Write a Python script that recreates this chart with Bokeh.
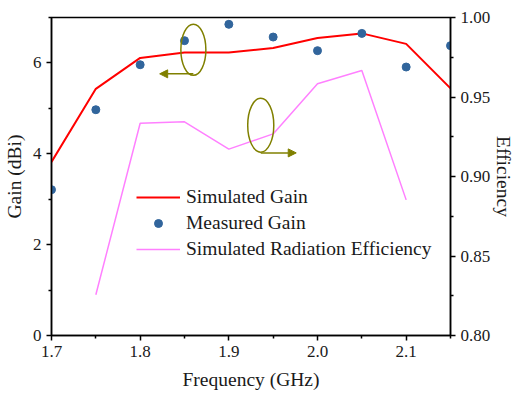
from bokeh.plotting import figure
from bokeh.models import (Range1d, LinearAxis, Legend, LegendItem, Arrow, NormalHead,
                          FixedTicker, PrintfTickFormatter)
from bokeh.embed import file_html
from bokeh.resources import INLINE

# ---- data ----
freq = [1.70, 1.75, 1.80, 1.85, 1.90, 1.95, 2.00, 2.05, 2.10, 2.15]
sim_gain = [3.82, 5.43, 6.11, 6.23, 6.23, 6.33, 6.55, 6.65, 6.42, 5.44]
meas_gain = [3.21, 4.97, 5.96, 6.49, 6.85, 6.57, 6.27, 6.65, 5.91, 6.38]
eff_freq = [1.75, 1.80, 1.85, 1.90, 1.95, 2.00, 2.05, 2.10]
sim_eff = [0.8256, 0.9335, 0.9344, 0.9172, 0.9268, 0.9583, 0.9667, 0.8853]

x_ticks = [1.7, 1.8, 1.9, 2.0, 2.1]
gain_ticks = [0, 2, 4, 6]
eff_ticks = [0.80, 0.85, 0.90, 0.95, 1.00]

FONT = "Liberation Serif"
OLIVE = "#808000"
TXT = "#1a1a1a"

p = figure(width=517, height=393, output_backend="svg", toolbar_location=None,
           x_range=Range1d(1.7, 2.15), y_range=Range1d(0, 7),
           min_border_left=51, min_border_right=67, min_border_top=17, min_border_bottom=58)
p.extra_y_ranges = {"eff": Range1d(0.80, 1.00)}
p.grid.visible = False
p.outline_line_color = "black"
p.outline_line_width = 1.5
p.background_fill_color = "white"
p.border_fill_color = "white"

r_sim = p.line(freq, sim_gain, line_color="#FF0000", line_width=2)
r_meas = p.scatter(freq, meas_gain, size=8, fill_color="#31659C", line_color="#31659C")
r_eff = p.line(eff_freq, sim_eff, line_color="#FF80FF", line_width=1.5, y_range_name="eff")

# annotations (ellipses + arrows)
p.ellipse(x=[1.860], y=[6.29], width=[0.0282], height=[1.125], fill_color=None,
          line_color=OLIVE, line_width=1.5)
p.ellipse(x=[1.936], y=[4.63], width=[0.0294], height=[1.19], fill_color=None,
          line_color=OLIVE, line_width=1.5)
p.add_layout(Arrow(x_start=1.860, y_start=5.76, x_end=1.822, y_end=5.76,
                   line_color=OLIVE, line_width=1.5,
                   end=NormalHead(size=8, fill_color=OLIVE, line_color=OLIVE)))
p.add_layout(Arrow(x_start=1.936, y_start=4.02, x_end=1.976, y_end=4.02,
                   line_color=OLIVE, line_width=1.5,
                   end=NormalHead(size=8, fill_color=OLIVE, line_color=OLIVE)))

def style_axis(ax, label):
    ax.axis_label = label
    ax.axis_label_text_font = FONT
    ax.axis_label_text_font_style = "normal"
    ax.axis_label_text_font_size = "19.5px"
    ax.axis_label_text_color = TXT
    ax.major_label_text_font = FONT
    ax.major_label_text_font_size = "17px"
    ax.major_label_text_color = TXT
    ax.axis_line_width = 1.5
    ax.major_tick_line_width = 1.5
    ax.minor_tick_line_width = 1.5
    ax.major_tick_in = 0
    ax.major_tick_out = 5
    ax.minor_tick_in = 0
    ax.minor_tick_out = 3

xa = p.xaxis[0]
style_axis(xa, "Frequency (GHz)")
xa.ticker = FixedTicker(ticks=x_ticks, minor_ticks=[1.75, 1.85, 1.95, 2.05, 2.15])
xa.formatter = PrintfTickFormatter(format="%.1f")
xa.axis_label_standoff = 9

ya = p.yaxis[0]
style_axis(ya, "Gain (dBi)")
ya.ticker = FixedTicker(ticks=gain_ticks, minor_ticks=[1, 3, 5, 7])
ya.formatter = PrintfTickFormatter(format="%d")
ya.axis_label_standoff = 5

ra = LinearAxis(y_range_name="eff")
style_axis(ra, "Efficiency")
ra.ticker = FixedTicker(ticks=eff_ticks, minor_ticks=[0.825, 0.875, 0.925, 0.975])
ra.formatter = PrintfTickFormatter(format="%.2f")
ra.axis_label_standoff = 0
p.add_layout(ra, "right")

legend = Legend(items=[LegendItem(label="Simulated Gain", renderers=[r_sim]),
                       LegendItem(label="Measured Gain", renderers=[r_meas]),
                       LegendItem(label="Simulated Radiation Efficiency", renderers=[r_eff])],
                location=(85, 75), orientation="vertical")
legend.label_text_font = FONT
legend.label_text_font_size = "19.5px"
legend.label_text_color = TXT
legend.background_fill_alpha = 0
legend.border_line_alpha = 0
legend.padding = 0
legend.margin = 0
legend.spacing = 4
legend.glyph_width = 44
legend.glyph_height = 20
legend.label_height = 20
legend.label_standoff = 6
p.add_layout(legend, "center")

open("out.html", "w").write(file_html(p, INLINE))
